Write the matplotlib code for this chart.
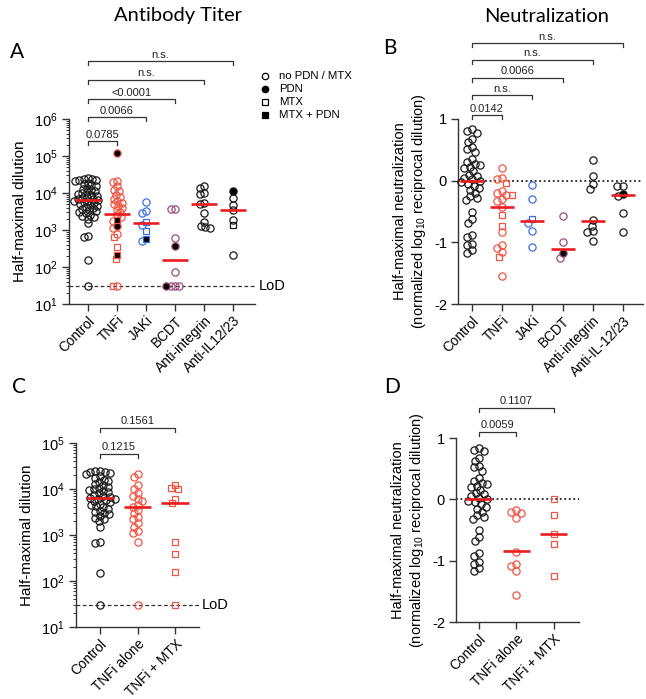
import numpy as np
import matplotlib
matplotlib.use("Agg")
import matplotlib.pyplot as plt
from matplotlib.lines import Line2D
from matplotlib.ticker import LogLocator, NullFormatter, FuncFormatter, FixedLocator

plt.rcParams['font.family'] = ['Liberation Sans', 'DejaVu Sans']
plt.rcParams['mathtext.fontset'] = 'custom'
plt.rcParams['mathtext.rm'] = 'Liberation Sans'
plt.rcParams['mathtext.it'] = 'Liberation Sans:italic'
plt.rcParams['axes.unicode_minus'] = False

# ---------------- data ----------------
cats_a = ["Control", "TNFi", "JAKi", "BCDT", "Anti-integrin", "Anti-IL12/23"]
cats_b = ["Control", "TNFi", "JAKi", "BCDT", "Anti-integrin", "Anti-IL-12/23"]
cats_cd = ["Control", "TNFi alone", "TNFi + MTX"]

# control titers (shared by A and C)
ctrl_titer = [25000, 24500, 24000, 23000, 22000, 21000, 19000, 17500, 16000, 15000,
              14000, 13000, 12000, 11000, 10500, 10000, 9500, 9000, 8500, 8000,
              7500, 7000, 6800, 6500, 6200, 6000, 5700, 5400, 5100, 4800,
              4500, 4200, 4000, 3700, 3400, 3200, 3000, 2800, 2600, 2400,
              2200, 2000, 1500, 700, 660, 150, 30]

# panel A, by marker kind: open circle (no PDN/MTX), PDN, MTX, MTX+PDN
a_none = [ctrl_titer,
          [21000, 20000, 15000, 12000, 11000, 9000, 8000, 7000, 6000, 5500,
           5000, 4500, 4000, 3500, 3000, 2500, 2200, 1700, 1100, 800, 30],
          [5800, 3200, 2900, 1400, 500],
          [3800, 3700, 600, 75, 30, 30, 30],
          [15000, 14000, 10000, 9500, 5300, 5000, 2900, 1600, 1300, 1200, 1150],
          [7300, 4800, 3500, 1900, 210]]
a_pdn = [[], [120000, 1250], [], [380, 30], [], [11500]]
a_mtx = [[], [650, 350, 160, 30], [1600, 950], [], [], [1400]]
a_mtx_pdn = [[], [1900, 210], [560], [], [], []]
a_median = [6500, 2700, 1500, 150, 5000, 3500]

# panel B
ctrl_neut = [0.83, 0.80, 0.78, 0.68, 0.62, 0.55, 0.52, 0.47, 0.35, 0.30,
             0.27, 0.25, 0.22, 0.20, 0.15, 0.10, 0.08, 0.05, 0.02, 0.0,
             -0.02, -0.05, -0.08, -0.12, -0.15, -0.20, -0.25, -0.28, -0.32, -0.50,
             -0.62, -0.68, -0.88, -0.92, -1.02, -1.05, -1.12, -1.17]
b_none = [ctrl_neut,
          [0.2, 0.04, 0.02, -0.17, -0.2, -0.23, -0.3, -0.33, -0.42, -0.84,
           -1.05, -1.09, -1.16, -1.54],
          [-0.07, -0.29, -0.68, -0.82, -1.08],
          [-0.58, -1.0, -1.26],
          [0.34, 0.08, -0.05, -0.13, -0.64, -0.73, -0.82, -0.84, -0.98],
          [-0.08, -0.08, -0.25, -0.52, -0.84]]
b_pdn = [[], [], [], [-1.18], [], [-0.22]]
b_mtx = [[], [-0.03, -0.24, -0.55, -0.74, -1.24], [-0.62], [], [], []]
b_median = [0.0, -0.42, -0.66, -1.1, -0.66, -0.24]

# panel C
c_tnfi_alone = [21000, 18000, 12000, 10000, 8000, 7000, 6000, 5500, 4500, 4000,
                3500, 3000, 2500, 2200, 1800, 1500, 1200, 1100, 700, 30]
c_tnfi_mtx = [12000, 10500, 10000, 6000, 5000, 700, 380, 155, 30]
c_median = [6500, 4000, 5000]

# panel D
d_tnfi_alone = [-0.18, -0.2, -0.23, -0.31, -0.86, -1.06, -1.08, -1.17, -1.56]
d_tnfi_mtx = [0.0, -0.26, -0.57, -0.73, -1.25]
d_median = [0.0, -0.85, -0.57]

# brackets: (end category, label)
a_brackets = [(1, "0.0785"), (2, "0.0066"), (3, "<0.0001"), (4, "n.s."), (5, "n.s.")]
b_brackets = [(1, "0.0142"), (2, "n.s."), (3, "0.0066"), (4, "n.s."), (5, "n.s.")]
c_brackets = [(1, "0.1215"), (2, "0.1561")]
d_brackets = [(1, "0.0059"), (2, "0.1107")]

# ---------------- style ----------------
BLACK = '#1a1a1a'
RED = '#ef5646'
MEDRED = '#ea1c1f'
BLUE = '#3f6fe3'
PURPLE = '#9a4d78'
a_colors = [BLACK, RED, BLUE, PURPLE, BLACK, BLACK]
b_colors = a_colors
cd_colors = [BLACK, RED, RED]

W, H = 646, 699
fig = plt.figure(figsize=(W / 100, H / 100), dpi=100)


def add_ax(left, top, right, bottom):
    return fig.add_axes([left / W, 1 - bottom / H, (right - left) / W, (bottom - top) / H])


def swarm_offsets(ypix, diam):
    ypix = np.asarray(ypix, float)
    xs = np.zeros(len(ypix))
    placed = []
    for i in np.argsort(-ypix):
        y = ypix[i]
        iv = []
        for px, py in placed:
            dy = abs(py - y)
            if dy < diam:
                dx = np.sqrt(diam ** 2 - dy ** 2)
                iv.append((px - dx, px + dx))
        cands = [0.0] + [a for a, b in iv] + [b for a, b in iv]
        cands.sort(key=lambda c: (abs(c), c))
        for c in cands:
            if all(not (a + 1e-6 < c < b - 1e-6) for a, b in iv):
                xs[i] = c
                break
        placed.append((xs[i], y))
    return xs


def draw_group(ax, k, pts, color, diam, ms=5.2):
    if not pts:
        return
    vals = np.array([v for v, _ in pts], float)
    pix = ax.transData.transform(np.column_stack([np.full(len(vals), k), vals]))[:, 1]
    ppu = ax.transData.transform((1, 1))[0] - ax.transData.transform((0, 1))[0]
    offs = swarm_offsets(pix, diam) / ppu
    for (v, kind), dx in zip(pts, offs):
        marker = 'o' if kind in ('o', 'of') else 's'
        face = 'black' if kind in ('of', 'sf') else 'none'
        size = ms if marker == 'o' else ms * 0.88
        ax.plot(k + dx, v, marker=marker, ms=size, mfc=face, mec=color, mew=0.9,
                ls='none', zorder=3, clip_on=False)


def draw_median(ax, k, m, half):
    ax.plot([k - half, k + half], [m, m], color=MEDRED, lw=1.9, zorder=4,
            solid_capstyle='butt')


def style_ax(ax, cats, tick_fs=10.5):
    for s in ('top', 'right'):
        ax.spines[s].set_visible(False)
    for s in ('left', 'bottom'):
        ax.spines[s].set_linewidth(1.0)
        ax.spines[s].set_color('#333333')
    ax.set_xticks(range(len(cats)))
    ax.set_xticklabels(cats, rotation=45, ha='right', rotation_mode='anchor', fontsize=9.8)
    ax.tick_params(axis='both', which='major', length=5, width=1.0, color='#333333',
                   labelsize=tick_fs, pad=3)
    ax.tick_params(axis='x', which='major', labelsize=9.8, pad=2)
    ax.tick_params(axis='y', which='minor', length=2.5, width=0.7, color='#333333')


def log_axis(ax, top):
    ax.set_yscale('log')
    ax.set_ylim(10, top)
    ax.yaxis.set_major_locator(LogLocator(base=10, numticks=10))
    ax.yaxis.set_minor_locator(LogLocator(base=10, subs=np.arange(2, 10), numticks=60))
    ax.yaxis.set_major_formatter(FuncFormatter(
        lambda v, p: r'$\mathregular{10^{%d}}$' % round(np.log10(v))))
    ax.yaxis.set_minor_formatter(NullFormatter())


def bracket(ax, x0, x1, ypx, text, bottom_px, height_px):
    yf = (bottom_px - ypx) / height_px
    d = 4.0 / height_px
    tr = ax.get_xaxis_transform()
    ax.plot([x0, x0, x1, x1], [yf - d, yf, yf, yf - d], transform=tr, color='#333333',
            lw=0.9, clip_on=False, zorder=5)
    ax.text((x0 + x1) / 2, yf + 3.5 / height_px, text, transform=tr, ha='center',
            va='baseline', fontsize=8, color='#222222')


def lod(ax):
    ax.axhline(30, color='#333333', lw=0.9, ls=(0, (3, 2)), zorder=1)
    ax.text(1.02, 30, "LoD", transform=ax.get_yaxis_transform(), ha='left',
            va='center', fontsize=10.5)


def zero_line(ax):
    ax.axhline(0, color='#222222', lw=1.3, ls=(0, (1, 1.5)), zorder=1)


# ---------------- panel A ----------------
axA = add_ax(69, 119, 255, 304)
log_axis(axA, 1e6)
axA.set_xlim(-0.65, 5.75)
style_ax(axA, cats_a)
axA.set_ylabel("Half-maximal dilution", fontsize=11, labelpad=5)
lod(axA)
for k in range(len(cats_a)):
    pts = ([(v, 'o') for v in a_none[k]] + [(v, 'of') for v in a_pdn[k]] +
           [(v, 's') for v in a_mtx[k]] + [(v, 'sf') for v in a_mtx_pdn[k]])
    draw_group(axA, k, pts, a_colors[k], diam=4.4)
    draw_median(axA, k, a_median[k], 0.45)
for (k, lab), ypx in zip(a_brackets, [141, 117, 99, 80, 61]):
    bracket(axA, 0, k, ypx, lab, 304, 185)

# legend
leg_rows = [("no PDN / MTX", 'o', 'none'), ("PDN", 'o', 'black'),
            ("MTX", 's', 'none'), ("MTX + PDN", 's', 'black')]
for (lab, mk, fc), ypx in zip(leg_rows, [76, 89, 102, 115]):
    fig.add_artist(Line2D([265 / W], [1 - ypx / H], marker=mk, ms=4.6 if mk == 'o' else 4.2,
                          mfc=fc, mec='black', mew=0.9, ls='none',
                          transform=fig.transFigure))
    fig.text(279 / W, 1 - ypx / H, lab, ha='left', va='center', fontsize=8.2)

# ---------------- panel B ----------------
axB = add_ax(458, 119, 643, 304)
axB.set_ylim(-2, 1)
axB.set_xlim(-0.46, 5.66)
axB.yaxis.set_major_locator(FixedLocator([-2, -1, 0, 1]))
style_ax(axB, cats_b)
axB.set_ylabel("Half-maximal neutralization\n(normalized log$_{10}$ reciprocal dilution)",
               fontsize=10.5, labelpad=4, linespacing=1.25)
zero_line(axB)
for k in range(len(cats_b)):
    pts = ([(v, 'o') for v in b_none[k]] + [(v, 'of') for v in b_pdn[k]] +
           [(v, 's') for v in b_mtx[k]])
    draw_group(axB, k, pts, b_colors[k], diam=5.6)
    draw_median(axB, k, b_median[k], 0.4)
for (k, lab), ypx in zip(b_brackets, [115, 95, 78, 60, 43]):
    bracket(axB, 0, k, ypx, lab, 304, 185)

# ---------------- panel C ----------------
axC = add_ax(76, 443, 199, 627)
log_axis(axC, 1e5)
axC.set_xlim(-0.64, 2.64)
style_ax(axC, cats_cd)
axC.set_ylabel("Half-maximal dilution", fontsize=11, labelpad=5)
lod(axC)
c_groups = [[(v, 'o') for v in ctrl_titer], [(v, 'o') for v in c_tnfi_alone],
            [(v, 's') for v in c_tnfi_mtx]]
for k, pts in enumerate(c_groups):
    draw_group(axC, k, pts, cd_colors[k], diam=5.0)
    draw_median(axC, k, c_median[k], 0.37)
for (k, lab), ypx in zip(c_brackets, [454, 428]):
    bracket(axC, 0, k, ypx, lab, 627, 184)

# ---------------- panel D ----------------
axD = add_ax(456, 438, 579, 622)
axD.set_ylim(-2, 1)
axD.set_xlim(-0.61, 2.67)
axD.yaxis.set_major_locator(FixedLocator([-2, -1, 0, 1]))
style_ax(axD, cats_cd)
axD.set_ylabel("Half-maximal neutralization\n(normalized log$_{10}$ reciprocal dilution)",
               fontsize=10.5, labelpad=4, linespacing=1.25)
zero_line(axD)
d_groups = [[(v, 'o') for v in ctrl_neut], [(v, 'o') for v in d_tnfi_alone],
            [(v, 's') for v in d_tnfi_mtx]]
for k, pts in enumerate(d_groups):
    draw_group(axD, k, pts, cd_colors[k], diam=5.6)
    draw_median(axD, k, d_median[k], 0.36)
for (k, lab), ypx in zip(d_brackets, [432, 408]):
    bracket(axD, 0, k, ypx, lab, 622, 184)

# ---------------- titles / panel letters ----------------
fig.text(178 / W, 1 - 16 / H, "Antibody Titer", ha='center', va='center',
         fontsize=14.5, family=['Lato', 'DejaVu Sans'])
fig.text(547 / W, 1 - 16 / H, "Neutralization", ha='center', va='center',
         fontsize=14.5, family=['Lato', 'DejaVu Sans'])
for lab, x, y in [("A", 10, 52), ("B", 383, 48), ("C", 12, 387), ("D", 384, 387)]:
    fig.text(x / W, 1 - y / H, lab, ha='left', va='center', fontsize=15,
             family=['Lato', 'DejaVu Sans'])

fig.savefig("out.png", dpi=100)
